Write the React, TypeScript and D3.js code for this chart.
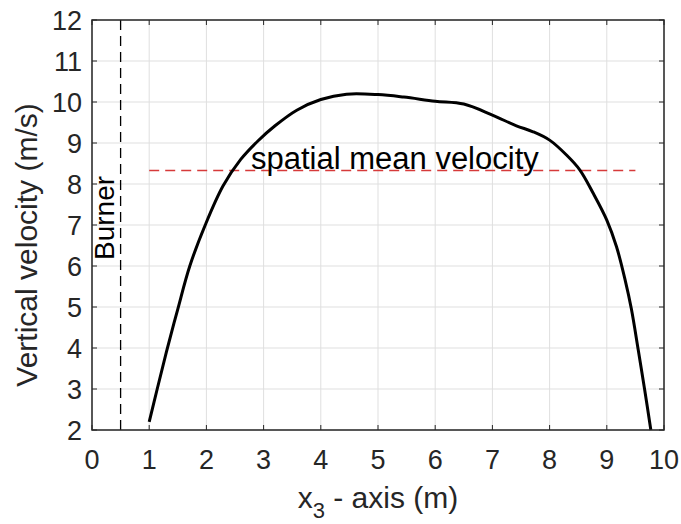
import React from 'react';
import * as d3 from 'd3';

// Velocity profile
const profileX = [1.0, 1.14, 1.3, 1.5, 1.71, 1.98, 2.29, 2.6, 2.9, 3.2, 3.58, 4.0, 4.45, 5.0, 5.45, 6.0, 6.5, 7.0, 7.42, 7.7, 8.0, 8.3, 8.53, 8.76, 9.0, 9.17, 9.32, 9.43, 9.55, 9.66, 9.77];
const profileY = [2.2, 3.0, 3.9, 4.95, 6.0, 7.0, 7.95, 8.6, 9.05, 9.42, 9.8, 10.06, 10.19, 10.18, 10.12, 10.02, 9.95, 9.68, 9.42, 9.28, 9.07, 8.7, 8.34, 7.78, 7.12, 6.47, 5.66, 4.95, 3.95, 3.0, 2.0];

const xTickValues = [0, 1, 2, 3, 4, 5, 6, 7, 8, 9, 10];
const yTickValues = [2, 3, 4, 5, 6, 7, 8, 9, 10, 11, 12];

const burnerX = 0.5;
const meanVelocity = 8.33;
const meanSpan = [1.0, 9.5];

const xLabel = 'x';
const xLabelSub = '3';
const xLabelRest = ' - axis (m)';
const yLabel = 'Vertical velocity (m/s)';
const burnerLabel = 'Burner';
const meanLabel = 'spatial mean velocity';

export default function App() {
  const W = 681, H = 524;
  const L = 92, R = 664, T = 20, B = 430;
  const x = d3.scaleLinear().domain([0, 10]).range([L, R]);
  const y = d3.scaleLinear().domain([2, 12]).range([B, T]);
  const pts: [number, number][] = profileX.map((v, i) => [v, profileY[i]]);
  const line = d3.line<[number, number]>().x(d => x(d[0])).y(d => y(d[1])).curve(d3.curveCatmullRom.alpha(0.5));
  const font = 'Liberation Sans, Arial, Helvetica, sans-serif';
  const ink = '#262626';
  const grid = '#dfdfdf';
  const tl = 5;
  return (
    <svg width={W} height={H} style={{ position: 'absolute', left: 0, top: 0, background: '#fff' }} fontFamily={font}>
      <rect x={0} y={0} width={W} height={H} fill="#fff" />
      {xTickValues.map(v => (
        <line key={'gx' + v} x1={x(v)} x2={x(v)} y1={T} y2={B} stroke={grid} strokeWidth={1} />
      ))}
      {yTickValues.map(v => (
        <line key={'gy' + v} x1={L} x2={R} y1={y(v)} y2={y(v)} stroke={grid} strokeWidth={1} />
      ))}
      <line x1={x(burnerX)} x2={x(burnerX)} y1={y(12)} y2={y(2)} stroke="#000" strokeWidth={1.3} strokeDasharray="10,6" />
      <line x1={x(meanSpan[0])} x2={x(meanSpan[1])} y1={y(meanVelocity)} y2={y(meanVelocity)} stroke="#d63a3a" strokeWidth={1.4} strokeDasharray="10,6" />
      <path d={line(pts) || ''} fill="none" stroke="#000" strokeWidth={3} strokeLinejoin="round" />
      <rect x={L} y={T} width={R - L} height={B - T} fill="none" stroke={ink} strokeWidth={1.5} />
      {xTickValues.map(v => (
        <g key={'tx' + v}>
          <line x1={x(v)} x2={x(v)} y1={B} y2={B - tl} stroke={ink} strokeWidth={1} />
          <line x1={x(v)} x2={x(v)} y1={T} y2={T + tl} stroke={ink} strokeWidth={1} />
          <text x={x(v)} y={469} textAnchor="middle" fontSize={27} fill={ink}>{v}</text>
        </g>
      ))}
      {yTickValues.map(v => (
        <g key={'ty' + v}>
          <line x1={L} x2={L + tl} y1={y(v)} y2={y(v)} stroke={ink} strokeWidth={1} />
          <line x1={R} x2={R - tl} y1={y(v)} y2={y(v)} stroke={ink} strokeWidth={1} />
          <text x={82} y={y(v) + 10} textAnchor="end" fontSize={27} fill={ink}>{v}</text>
        </g>
      ))}
      <text x={378} y={508} textAnchor="middle" fontSize={30} fill={ink}>
        {xLabel}<tspan fontSize={22} dy={10}>{xLabelSub}</tspan><tspan dy={-10}>{xLabelRest}</tspan>
      </text>
      <text transform={`translate(37,245) rotate(-90)`} textAnchor="middle" fontSize={30} fill={ink}>{yLabel}</text>
      <text transform={`translate(114,218) rotate(-90)`} textAnchor="middle" fontSize={28} fill="#000">{burnerLabel}</text>
      <text x={251} y={169} fontSize={31} fill="#000">{meanLabel}</text>
    </svg>
  );
}
